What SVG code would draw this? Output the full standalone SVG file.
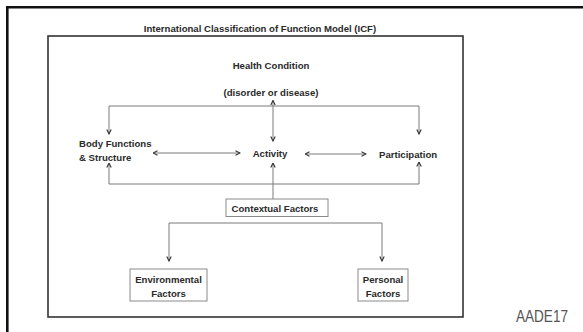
<svg xmlns="http://www.w3.org/2000/svg" width="583" height="332" viewBox="0 0 583 332">
<style>
text{font-family:"Liberation Sans",Arial,sans-serif;font-weight:bold;font-size:9.6px;fill:#2a2a2a}
.m{text-anchor:middle}
.c{fill:none;stroke:#7a7a7a;stroke-width:1}
.box{fill:#fff;stroke:#8a8a8a;stroke-width:1}
</style>
<defs>
<marker id="ah" viewBox="0 0 6 6" refX="5.5" refY="3" markerWidth="6" markerHeight="6" markerUnits="userSpaceOnUse" orient="auto-start-reverse">
<path d="M1,0.8 L5.5,3 L1,5.2" fill="none" stroke="#333" stroke-width="1.1"/>
</marker>
</defs>
<rect width="583" height="332" fill="#fff"/>
<g id="slide-frame">
<path d="M7.3,332 V7.3 H583" fill="none" stroke="#111" stroke-width="2.6"/>
</g>
<g id="frame">
<text x="260" y="31.5" class="m">International Classification of Function Model  (ICF)</text>
<rect x="48" y="36" width="415" height="281" fill="none" stroke="#333" stroke-width="1.6"/>
</g>
<g id="connectors">
<path class="c" d="M109,134 V106 H419 V134" marker-start="url(#ah)" marker-end="url(#ah)"/>
<line class="c" x1="273" y1="100.5" x2="273" y2="141" marker-start="url(#ah)" marker-end="url(#ah)"/>
<line class="c" x1="153" y1="153" x2="240" y2="153" marker-start="url(#ah)" marker-end="url(#ah)"/>
<line class="c" x1="305" y1="154" x2="366" y2="154" marker-start="url(#ah)" marker-end="url(#ah)"/>
<path class="c" d="M109,163 V184 H419 V162" marker-start="url(#ah)" marker-end="url(#ah)"/>
<line class="c" x1="273" y1="199" x2="273" y2="163" marker-end="url(#ah)"/>
<path class="c" d="M169,261 V223 H382 V261" marker-start="url(#ah)" marker-end="url(#ah)"/>
</g>
<g id="health-condition">
<text x="271" y="68.5" class="m">Health Condition</text>
<text x="271" y="95.5" class="m">(disorder or disease)</text>
</g>
<g id="body-functions">
<text x="79" y="146.5">Body Functions</text>
<text x="79" y="160.5">&amp; Structure</text>
</g>
<g id="activity">
<text x="270" y="157" class="m">Activity</text>
</g>
<g id="participation">
<text x="379" y="157.5">Participation</text>
</g>
<g id="contextual-factors">
<rect class="box" x="226" y="199" width="102" height="17.5"/>
<text x="275" y="211.5" class="m">Contextual  Factors</text>
</g>
<g id="environmental-factors">
<rect class="box" x="130" y="269" width="77" height="32"/>
<text x="168.5" y="282.5" class="m">Environmental</text>
<text x="168.5" y="296.5" class="m">Factors</text>
</g>
<g id="personal-factors">
<rect class="box" x="358" y="269" width="50" height="32"/>
<text x="383" y="282.5" class="m">Personal</text>
<text x="383" y="296.5" class="m">Factors</text>
</g>
<g id="logo">
<text x="516" y="322" style="font-weight:normal;font-size:16px;fill:#555" textLength="52" lengthAdjust="spacingAndGlyphs">AADE17</text>
</g>
</svg>
